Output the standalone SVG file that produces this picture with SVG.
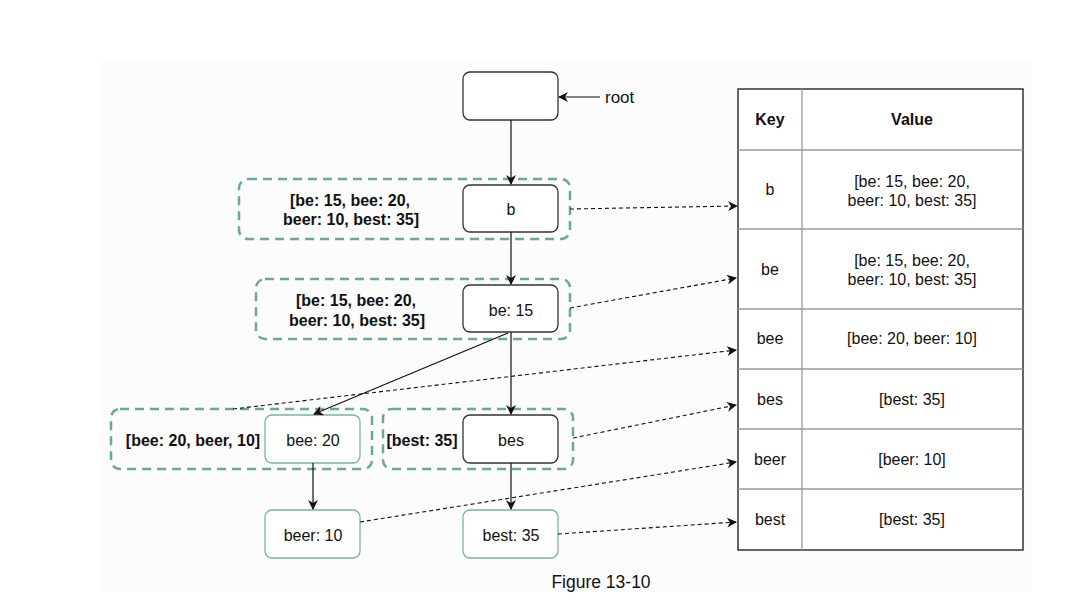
<svg xmlns="http://www.w3.org/2000/svg" width="1077" height="608" viewBox="0 0 1077 608">
<defs>
<marker id="ah" viewBox="0 0 10 10" refX="9" refY="5" markerWidth="10" markerHeight="10" markerUnits="userSpaceOnUse" orient="auto">
<path d="M0,0 L10,5 L0,10 L3,5 Z" fill="#111"/>
</marker>
</defs>
<style>
text{font-family:"Liberation Sans",Arial,sans-serif;fill:#111;font-size:16px;}
.b{font-weight:bold;}
.c{text-anchor:middle;}
.node{fill:#fff;stroke:#333;stroke-width:1.3;}
.tnode{fill:#fff;stroke:#7ab3a6;stroke-width:1.3;}
.grp{fill:none;stroke:#6aa999;stroke-width:2.5;stroke-dasharray:9,6;}
.sol{fill:none;stroke:#111;stroke-width:1.2;marker-end:url(#ah);}
.dsh{fill:none;stroke:#111;stroke-width:1.1;stroke-dasharray:4,3;marker-end:url(#ah);}
.tl{stroke:#999;stroke-width:1.3;}
</style>
<rect x="99" y="60" width="933" height="532" fill="#fcfcfc"/>

<g id="group-b"><rect class="grp" x="239" y="179" width="331" height="60" rx="9"/>
<text class="b c" x="350" y="206">[be: 15, bee: 20,</text>
<text class="b c" x="351" y="225">beer: 10, best: 35]</text></g>
<g id="group-be"><rect class="grp" x="256" y="279" width="314" height="60" rx="9"/>
<text class="b c" x="356" y="306">[be: 15, bee: 20,</text>
<text class="b c" x="357" y="326">beer: 10, best: 35]</text></g>
<g id="group-bee"><rect class="grp" x="111" y="409" width="261" height="60" rx="9"/>
<text class="b c" x="193" y="446">[bee: 20, beer, 10]</text></g>
<g id="group-bes"><rect class="grp" x="383" y="409" width="190" height="60" rx="9"/>
<text class="b c" x="422" y="446">[best: 35]</text></g>

<g id="node-root"><rect class="node" x="463" y="72" width="95" height="48" rx="7"/></g>
<g id="node-b"><rect class="node" x="463" y="185" width="95" height="47" rx="7"/><text class="c" x="511" y="215">b</text></g>
<g id="node-be"><rect class="node" x="463" y="285" width="95" height="47" rx="7"/><text class="c" x="511" y="316">be: 15</text></g>
<g id="node-bee"><rect class="tnode" x="265" y="415" width="95" height="48" rx="7"/><text class="c" x="313" y="446">bee: 20</text></g>
<g id="node-bes"><rect class="node" x="463" y="415" width="95" height="48" rx="7"/><text class="c" x="511" y="446">bes</text></g>
<g id="node-beer"><rect class="tnode" x="265" y="510" width="95" height="48" rx="7"/><text class="c" x="313" y="541">beer: 10</text></g>
<g id="node-best"><rect class="tnode" x="463" y="510" width="95" height="48" rx="7"/><text class="c" x="511" y="541">best: 35</text></g>

<g id="root-label"><text x="605" y="103" style="font-size:17px">root</text></g>

<g id="table">
<rect x="738" y="89" width="285" height="461" fill="#fff" stroke="#333" stroke-width="1.5"/>
<line class="tl" x1="802" y1="89" x2="802" y2="550"/>
<line class="tl" x1="738" y1="150" x2="1023" y2="150"/>
<line class="tl" x1="738" y1="229" x2="1023" y2="229"/>
<line class="tl" x1="738" y1="309" x2="1023" y2="309"/>
<line class="tl" x1="738" y1="369" x2="1023" y2="369"/>
<line class="tl" x1="738" y1="429" x2="1023" y2="429"/>
<line class="tl" x1="738" y1="489" x2="1023" y2="489"/>
<text class="b c" x="770" y="125">Key</text>
<text class="b c" x="912" y="125">Value</text>
<text class="c" x="770" y="195">b</text>
<text class="c" x="912" y="187">[be: 15, bee: 20,</text>
<text class="c" x="912" y="206">beer: 10, best: 35]</text>
<text class="c" x="770" y="275">be</text>
<text class="c" x="912" y="266">[be: 15, bee: 20,</text>
<text class="c" x="912" y="285">beer: 10, best: 35]</text>
<text class="c" x="770" y="344">bee</text>
<text class="c" x="912" y="344">[bee: 20, beer: 10]</text>
<text class="c" x="770" y="405">bes</text>
<text class="c" x="912" y="405">[best: 35]</text>
<text class="c" x="770" y="465">beer</text>
<text class="c" x="912" y="465">[beer: 10]</text>
<text class="c" x="770" y="525">best</text>
<text class="c" x="912" y="525">[best: 35]</text>
</g>

<g id="connectors">
<line class="sol" x1="600" y1="97" x2="559" y2="97"/>
<line class="sol" x1="511" y1="120" x2="511" y2="184"/>
<line class="sol" x1="511" y1="232" x2="511" y2="284"/>
<line class="sol" x1="508" y1="333" x2="314" y2="414"/>
<line class="sol" x1="511" y1="332" x2="511" y2="414"/>
<line class="sol" x1="313" y1="463" x2="313" y2="509"/>
<line class="sol" x1="511" y1="463" x2="511" y2="509"/>
<line class="dsh" x1="570" y1="209" x2="737" y2="206"/>
<line class="dsh" x1="570" y1="308" x2="736" y2="278"/>
<line class="dsh" x1="233" y1="409" x2="736" y2="350"/>
<line class="dsh" x1="573" y1="438" x2="736" y2="405"/>
<line class="dsh" x1="360" y1="522" x2="736" y2="462"/>
<line class="dsh" x1="558" y1="534" x2="736" y2="522"/>
</g>

<text class="c" x="601" y="588" style="font-size:17.5px">Figure 13-10</text>
</svg>
